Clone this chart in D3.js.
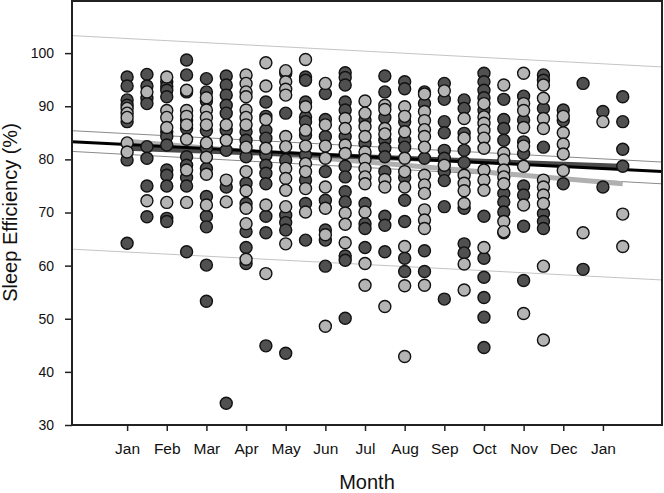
<!DOCTYPE html>
<html>
<head>
<meta charset="utf-8">
<script src="https://cdn.jsdelivr.net/npm/d3@7"></script>
<style>
  body { margin: 0; background: #fff; }
  text { font-family: "Liberation Sans", Arial, sans-serif; fill: #111; }
</style>
</head>
<body>
<div id="chart"></div>
<script>
// tick labels on the x axis (month index 0..12)
const monthLabels = ["Jan", "Feb", "Mar", "Apr", "May", "Jun", "Jul", "Aug", "Sep", "Oct", "Nov", "Dec", "Jan"];
const yTicks = [30, 40, 50, 60, 70, 80, 90, 100];

// column positions (in months, half month steps)
const colPos = [0, 0.5, 1, 1.5, 2, 2.5, 3, 3.5, 4, 4.5, 5, 5.5, 6, 6.5, 7, 7.5, 8, 8.5, 9, 9.5, 10, 10.5, 11, 11.5, 12, 12.5];

// sleep efficiency values, dark group, one list per column
const darkVals = [
    [95.5, 93.8, 91.2, 90.2, 87.1, 79.9, 64.2],
    [96.0, 93.8, 91.5, 90.5, 82.4, 80.2, 75.0, 69.2],
    [94.6, 93.7, 93.0, 91.8, 85.2, 84.3, 82.7, 78.0, 77.0, 75.0, 68.9, 68.3],
    [98.7, 95.9, 92.7, 87.4, 85.8, 80.5, 78.9, 76.6, 75.0, 62.6],
    [95.2, 92.7, 91.0, 85.4, 82.1, 78.3, 73.0, 69.3, 67.3, 60.1, 53.3],
    [95.7, 94.0, 92.1, 90.2, 88.7, 85.5, 81.7, 74.8, 34.1],
    [85.2, 83.6, 80.5, 75.5, 71.7, 66.4, 63.4, 60.4],
    [90.8, 88.1, 85.5, 84.0, 80.8, 78.9, 77.4, 75.4, 69.3, 66.2, 44.9],
    [96.2, 88.7, 79.9, 69.5, 68.1, 66.7, 43.5],
    [95.5, 94.9, 90.8, 88.0, 87.1, 84.6, 80.8, 76.1, 71.7, 64.8],
    [92.4, 87.5, 84.3, 77.7, 72.3, 66.7, 64.8, 59.9],
    [96.3, 95.4, 94.0, 90.8, 89.3, 84.3, 78.7, 76.7, 73.9, 72.0, 61.8, 61.0, 50.1],
    [87.4, 83.0, 71.7, 67.9, 67.0, 63.4],
    [95.7, 92.7, 87.9, 83.6, 82.1, 80.5, 77.7, 69.3, 67.6, 62.6],
    [94.6, 93.3, 87.1, 83.6, 82.3, 76.6, 72.3, 68.3, 61.4, 58.9],
    [92.7, 90.5, 80.2, 62.8, 58.9],
    [94.3, 91.3, 87.1, 85.0, 81.7, 80.2, 77.7, 76.0, 71.1, 53.7],
    [91.2, 89.6, 84.9, 81.7, 79.4, 70.8, 64.1, 62.4],
    [96.2, 94.6, 93.0, 91.6, 89.3, 69.3, 61.4, 57.8, 54.0, 50.3, 44.6],
    [91.3, 87.5, 85.8, 83.6, 73.6, 72.0, 70.1, 66.2],
    [91.9, 87.4, 83.3, 81.1, 75.0, 73.3, 67.4, 57.2],
    [95.9, 94.9, 89.6, 82.3, 69.8, 68.3, 67.0],
    [89.3, 87.3, 75.4],
    [94.3, 59.3],
    [89.0, 74.8],
    [91.8, 87.1, 81.9, 78.7]
];

// light group
const lightVals = [
    [89.6, 88.7, 87.9, 83.1, 81.4],
    [92.7, 72.2],
    [95.5, 89.2, 87.9, 86.0, 71.9],
    [93.0, 89.2, 88.1, 86.5, 83.8, 78.0, 71.9],
    [91.6, 89.3, 87.9, 86.5, 83.1, 80.4, 77.2, 71.4],
    [86.5, 83.6, 76.1, 72.0],
    [95.9, 94.3, 92.7, 91.8, 89.3, 87.9, 86.5, 82.3, 77.7, 74.1, 70.8, 67.9, 61.2],
    [98.2, 93.8, 87.5, 82.1, 71.4, 58.5],
    [96.7, 94.6, 93.2, 92.1, 84.3, 82.4, 78.3, 76.4, 74.2, 71.1, 64.1],
    [98.8, 89.9, 85.5, 82.5, 79.2, 77.7, 74.5, 70.1],
    [94.3, 86.5, 82.5, 80.2, 74.8, 70.8, 65.8, 48.6],
    [87.7, 85.8, 82.7, 81.1, 69.9, 67.8, 64.3],
    [91.0, 88.7, 86.2, 84.3, 81.4, 80.0, 78.3, 76.7, 75.4, 70.1, 60.4, 56.3],
    [90.2, 89.4, 85.8, 84.8, 76.2, 74.8, 52.3],
    [89.9, 88.1, 85.2, 80.2, 77.7, 74.8, 63.6, 56.2, 42.9],
    [92.3, 89.0, 87.3, 85.6, 84.3, 82.3, 77.0, 75.2, 73.6, 70.5, 68.6, 67.0, 56.3],
    [92.9, 78.9],
    [87.7, 84.0, 77.0, 75.5, 74.1, 71.7, 60.3, 55.4],
    [90.5, 88.0, 86.8, 85.5, 84.0, 82.1, 78.0, 76.1, 74.2, 63.4],
    [94.0, 81.2, 79.9, 78.0, 76.7, 75.4, 68.3, 66.4],
    [96.2, 90.5, 89.2, 86.0, 82.5, 78.7, 71.4, 51.0],
    [94.0, 91.5, 87.7, 85.8, 76.1, 74.8, 73.3, 71.7, 59.9, 46.0],
    [88.1, 85.0, 82.9, 81.0, 77.9],
    [66.2],
    [87.1],
    [69.7, 63.6]
];

// regression lines: [x0, y0, x1, y1] in data units
const fitAll = [-1.39, 83.3, 13.49, 77.7];
const confUpper = [-1.39, 85.4, 13.49, 79.5];
const confLower = [-1.39, 81.5, 13.49, 75.4];
const predUpper = [-1.39, 103.3, 13.49, 97.4];
const predLower = [-1.39, 63.1, 13.49, 57.3];
const fitDark = [0, 82.1, 12.45, 78.7];
const fitLight = [0, 83.4, 12.5, 75.4];

const width = 664, height = 493;
const margin = {left: 72, right: 662, top: 1, bottom: 425};

const svg = d3.select("#chart").append("svg")
    .attr("width", width)
    .attr("height", height);

const x = d3.scaleLinear().domain([-1.39, 13.49]).range([margin.left, margin.right]);
const y = d3.scaleLinear().domain([30, 110]).range([margin.bottom, 0]);

// fit + interval lines go under the dots
function seg(l, color, w) {
    svg.append("line")
        .attr("x1", x(l[0])).attr("y1", y(l[1]))
        .attr("x2", x(l[2])).attr("y2", y(l[3]))
        .attr("stroke", color)
        .attr("stroke-width", w);
}
seg(predUpper, "#c4c4c4", 1);
seg(predLower, "#c4c4c4", 1);
seg(confUpper, "#8a8a8a", 1);
seg(confLower, "#8a8a8a", 1);
seg(fitLight, "#b0b0b0", 5);
seg(fitDark, "#4a4a4a", 5);
seg(fitAll, "#000", 3);

// points
const pts = [];
colPos.forEach((m, i) => {
    darkVals[i].forEach(v => pts.push({m: m, v: v, dark: true}));
    lightVals[i].forEach(v => pts.push({m: m, v: v, dark: false}));
});

svg.append("g")
    .selectAll("circle")
    .data(pts)
    .join("circle")
    .attr("cx", d => x(d.m))
    .attr("cy", d => y(d.v))
    .attr("r", 6)
    .attr("fill", d => d.dark ? "#505050" : "#b4b4b4")
    .attr("stroke", "#111")
    .attr("stroke-width", 1.4);

// axes
const yAxis = svg.append("g")
    .attr("transform", `translate(${margin.left},0)`)
    .call(d3.axisLeft(y).tickValues(yTicks).tickSize(7).tickPadding(11));
yAxis.select(".domain").remove();
yAxis.selectAll("text").style("font-size", "14px");
yAxis.selectAll("line").attr("stroke", "#222").attr("stroke-width", 1.5);

const xAxis = svg.append("g")
    .attr("transform", `translate(0,${margin.bottom})`)
    .call(d3.axisBottom(x).tickValues(d3.range(13)).tickFormat(i => monthLabels[i]).tickSize(6).tickPadding(12));
xAxis.select(".domain").remove();
xAxis.selectAll("text").style("font-size", "15.5px");
xAxis.selectAll("line").attr("stroke", "#222").attr("stroke-width", 1.5);

// frame
svg.append("rect")
    .attr("x", margin.left).attr("y", margin.top)
    .attr("width", margin.right - margin.left).attr("height", margin.bottom - margin.top)
    .attr("fill", "none")
    .attr("stroke", "#222")
    .attr("stroke-width", 2);

// titles
svg.append("text")
    .attr("x", (margin.left + margin.right) / 2)
    .attr("y", 489)
    .attr("text-anchor", "middle")
    .style("font-size", "20px")
    .text("Month");

svg.append("text")
    .attr("transform", "translate(16.5,212.5) rotate(-90)")
    .attr("text-anchor", "middle")
    .style("font-size", "20px")
    .text("Sleep Efficiency (%)");
</script>
</body>
</html>
